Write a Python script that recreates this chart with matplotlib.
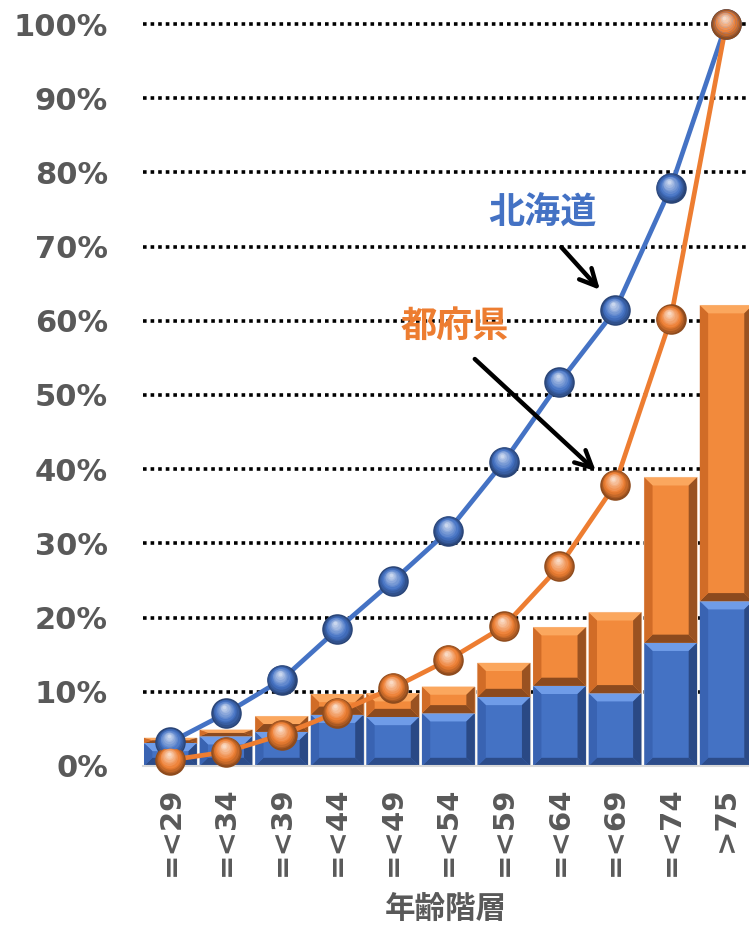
import numpy as np
import matplotlib.pyplot as plt
from matplotlib.patches import Polygon
from matplotlib.transforms import offset_copy
from matplotlib.colors import to_rgb

# 年齢階層ごとの構成比（%）
labels = ['=<29', '=<34', '=<39', '=<44', '=<49', '=<54', '=<59', '=<64', '=<69', '=<74', '>75']
hokkaido_share = [3.1, 4.0, 4.6, 6.9, 6.6, 7.1, 9.3, 10.8, 9.8, 16.6, 22.2]
pref_share = [0.7, 0.9, 2.1, 2.8, 3.2, 3.6, 4.6, 7.9, 10.9, 22.3, 39.9]

# 累積構成比（%）
hokkaido_cum = [3.2, 7.1, 11.6, 18.4, 24.9, 31.7, 41.0, 51.7, 61.4, 77.9, 100.0]
pref_cum = [0.8, 1.9, 4.2, 7.2, 10.5, 14.3, 18.8, 26.9, 37.9, 60.2, 100.0]

BLUE = '#4472C4'
ORANGE = '#ED7D31'
GRAY = '#595959'
TICKFONT = ['DejaVu Sans', 'Noto Sans CJK JP']
JPFONT = ['Noto Sans CJK JP', 'DejaVu Sans']


def mix(c, target, t):
    c = np.array(to_rgb(c)); target = np.array(to_rgb(target))
    return tuple(c + (target - c) * t)


def bevel(ax, bars, top, left, right, bottom, bx=0.15, by=1.1):
    # 棒の縁を斜めに塗って立体風にする
    for r in bars:
        x0, y0, w, h = r.get_x(), r.get_y(), r.get_width(), r.get_height()
        x1, y1 = x0 + w, y0 + h
        dy = min(by, h / 2)
        dx = min(bx, w / 2)
        polys = [
            ([(x0, y1), (x1, y1), (x1 - dx, y1 - dy), (x0 + dx, y1 - dy)], top),
            ([(x0, y0), (x1, y0), (x1 - dx, y0 + dy), (x0 + dx, y0 + dy)], bottom),
            ([(x0, y0), (x0 + dx, y0 + dy), (x0 + dx, y1 - dy), (x0, y1)], left),
            ([(x1, y0), (x1 - dx, y0 + dy), (x1 - dx, y1 - dy), (x1, y1)], right),
        ]
        for pts, col in polys:
            ax.add_patch(Polygon(pts, closed=True, facecolor=col, edgecolor='none', zorder=2.5))


def spheres(ax, fig, x, y, color, ms=22, n=10):
    # 球状マーカー：暗い外周から明るいハイライトへ重ねる
    dark = mix(color, 'black', 0.4)
    ax.plot(x, y, 'o', ms=ms, color=dark, mec='none', zorder=5, clip_on=False)
    for k in range(1, n + 1):
        t = k / n
        size = ms * (1 - 0.88 * t)
        trans = offset_copy(ax.transData, fig=fig, x=-0.06 * ms * t, y=0.2 * ms * t, units='points')
        if t < 0.35:
            col = mix(dark, color, t / 0.35)
        else:
            col = mix(color, 'white', (t - 0.35) * 1.1)
        ax.plot(x, y, 'o', ms=size, color=col, mec='none', zorder=5 + k * 0.01,
                transform=trans, clip_on=False)


fig = plt.figure(figsize=(7.49, 9.34), dpi=100)
ax = fig.add_axes([0.1904, 0.1799, 0.8096, 0.7944])

x = np.arange(len(labels))
b1 = ax.bar(x, hokkaido_share, width=0.95, color=BLUE, edgecolor='#E8E8E8', linewidth=0.8, zorder=2)
b2 = ax.bar(x, pref_share, bottom=hokkaido_share, width=0.95, color='#F28A3C',
            edgecolor='#F4D3B8', linewidth=0.8, zorder=2)
bevel(ax, b1, '#6F9CE8', '#3963B2', '#2A4985', '#2C4C8A')
bevel(ax, b2, '#FBA75E', '#D16C27', '#9A5221', '#8C4A1E')

ax.plot(x, hokkaido_cum, color=BLUE, lw=3.4, zorder=4, clip_on=False)
ax.plot(x, pref_cum, color=ORANGE, lw=3.4, zorder=4, clip_on=False)
spheres(ax, fig, x, hokkaido_cum, BLUE)
spheres(ax, fig, x, pref_cum, ORANGE)

ax.set_xlim(-0.5, 10.41)
ax.set_ylim(0, 100)
ax.set_yticks(np.arange(0, 101, 10))
ax.set_yticklabels([f'{v}%' for v in range(0, 101, 10)])
ax.set_xticks(x)
ax.set_xticklabels(labels, rotation=90, va='top')
for lab in ax.get_yticklabels():
    lab.set_fontfamily(TICKFONT)
ax.tick_params(axis='y', length=0, pad=25, labelsize=22, labelcolor=GRAY)
ax.tick_params(axis='x', length=0, pad=15, labelsize=21, labelcolor=GRAY)
for lab in ax.get_xticklabels() + ax.get_yticklabels():
    lab.set_fontweight('bold')

ax.set_axisbelow(True)
for v in range(10, 101, 10):
    ax.axhline(v, color='black', lw=2.6, ls=(0, (1, 1.1)), zorder=0.5, clip_on=False)
for s in ['left', 'right', 'top']:
    ax.spines[s].set_visible(False)
ax.spines['bottom'].set_color('#D9D9D9')
ax.spines['bottom'].set_linewidth(1.5)

ax.set_xlabel('年齢階層', fontsize=22, fontweight='bold', color=GRAY, family=JPFONT, labelpad=12)

ax.text(6.70, 74.5, '北海道', color=BLUE, fontsize=26, fontweight='bold', family=JPFONT,
        ha='center', va='center', zorder=6)
ax.text(5.12, 59.2, '都府県', color=ORANGE, fontsize=26, fontweight='bold', family=JPFONT,
        ha='center', va='center', zorder=6)
ax.annotate('', xy=(7.76, 63.9), xytext=(7.0, 70.2),
            arrowprops=dict(arrowstyle='->', color='black', lw=3.2, mutation_scale=30), zorder=6)
ax.annotate('', xy=(7.69, 39.5), xytext=(5.44, 55.1),
            arrowprops=dict(arrowstyle='->', color='black', lw=3.2, mutation_scale=30), zorder=6)

fig.savefig('out.png', dpi=100)
